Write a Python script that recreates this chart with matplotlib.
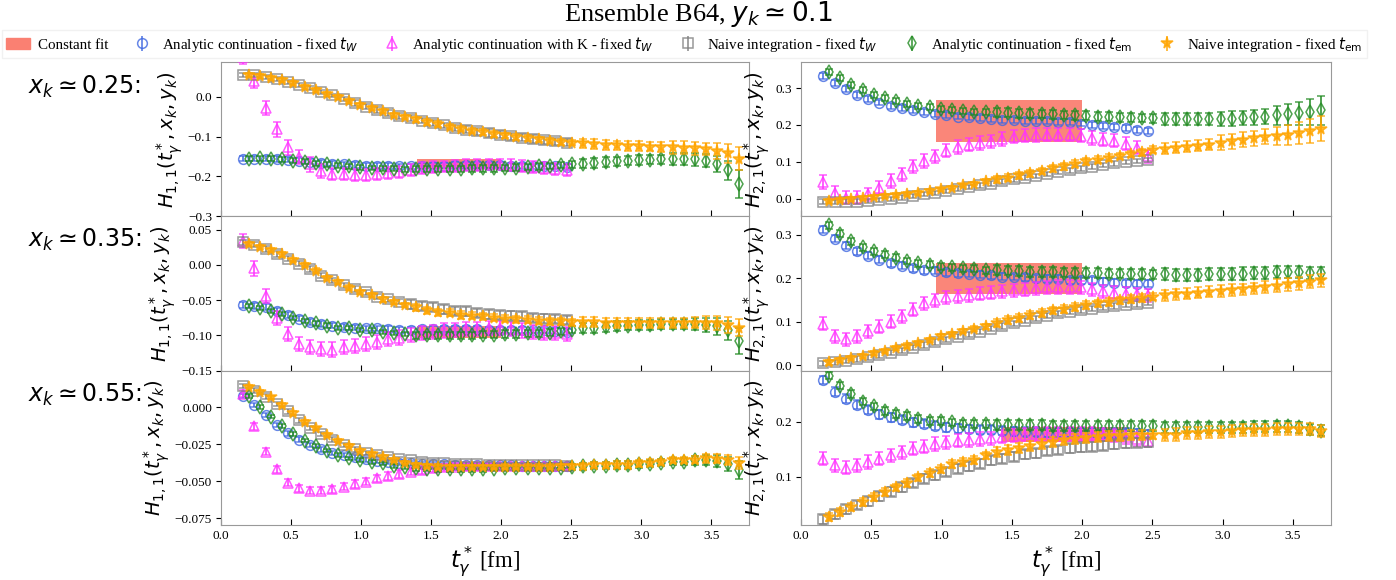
import matplotlib.pyplot as plt
from matplotlib.patches import Patch
import numpy as np

plt.rcParams['font.family'] = ['Liberation Serif', 'DejaVu Serif']
plt.rcParams['mathtext.fontset'] = 'dejavusans'

# lattice spacing of ensemble B64 (fm) and the time slices that were plotted
A_FM = 0.0796
tw_slices = np.arange(2, 32)          # fixed t_W series
tem_slices = np.arange(2, 47) + 0.5   # fixed t_em series (shifted by half a slice)

# ---------------- x_k ~ 0.25, H_{1,1} ----------------
tl_blue = [-0.155, -0.155, -0.155, -0.156, -0.158, -0.160, -0.163, -0.166, -0.168, -0.170,
           -0.172, -0.173, -0.174, -0.174, -0.175, -0.175, -0.174, -0.174, -0.173, -0.172,
           -0.172, -0.171, -0.171, -0.172, -0.173, -0.174, -0.175, -0.175, -0.175, -0.176]
tl_blue_err = [0.007] * 30
tl_pink = [0.100, 0.040, -0.029, -0.082, -0.127, -0.151, -0.170, -0.186, -0.193, -0.195,
           -0.196, -0.196, -0.194, -0.191, -0.188, -0.184, -0.180, -0.177, -0.175, -0.173,
           -0.172, -0.171, -0.170, -0.170, -0.171, -0.173, -0.176, -0.179, -0.182, -0.184]
tl_pink_err = [0.018] * 8 + [0.015] * 22
tl_gray = [0.055, 0.054, 0.050, 0.045, 0.038, 0.030, 0.021, 0.012, 0.003, -0.006,
           -0.016, -0.025, -0.033, -0.041, -0.048, -0.054, -0.060, -0.066, -0.072, -0.078,
           -0.083, -0.087, -0.091, -0.095, -0.099, -0.103, -0.106, -0.109, -0.112, -0.115]
tl_gray_err = [0.005] * 10 + [0.007] * 10 + [0.009] * 10
tl_green = [-0.155, -0.154, -0.155, -0.157, -0.160, -0.163, -0.167, -0.170, -0.173, -0.175,
            -0.177, -0.179, -0.180, -0.181, -0.182, -0.182, -0.182, -0.182, -0.181, -0.181,
            -0.180, -0.180, -0.180, -0.179, -0.178, -0.176, -0.175, -0.174, -0.172, -0.170,
            -0.168, -0.166, -0.164, -0.162, -0.160, -0.159, -0.158, -0.157, -0.156, -0.156,
            -0.157, -0.160, -0.168, -0.185, -0.218]
tl_green_err = [0.006] * 15 + [0.008] * 15 + [0.012] * 8 + [0.016] * 4 + [0.020, 0.025, 0.035]
tl_orange = [0.054, 0.052, 0.048, 0.041, 0.034, 0.025, 0.016, 0.007, -0.002, -0.011,
             -0.021, -0.029, -0.037, -0.045, -0.051, -0.057, -0.063, -0.069, -0.075, -0.080,
             -0.085, -0.089, -0.093, -0.097, -0.101, -0.104, -0.107, -0.110, -0.113, -0.115,
             -0.117, -0.119, -0.121, -0.122, -0.123, -0.124, -0.125, -0.126, -0.127, -0.128,
             -0.129, -0.131, -0.135, -0.142, -0.155]
tl_orange_err = [0.005] * 15 + [0.007] * 15 + [0.012] * 8 + [0.016] * 4 + [0.020, 0.024, 0.028]
tl_fit = (-0.182, -0.157)
tl_fit_range = (1.40, 2.00)

# ---------------- x_k ~ 0.25, H_{2,1} ----------------
tr_blue = [0.334, 0.315, 0.297, 0.282, 0.270, 0.261, 0.252, 0.245, 0.240, 0.235,
           0.231, 0.227, 0.223, 0.221, 0.218, 0.216, 0.214, 0.213, 0.212, 0.211,
           0.210, 0.209, 0.207, 0.204, 0.200, 0.197, 0.194, 0.192, 0.187, 0.183]
tr_blue_err = [0.008] * 30
tr_pink = [0.045, 0.016, 0.003, 0.003, 0.012, 0.030, 0.048, 0.066, 0.088, 0.102,
           0.115, 0.130, 0.140, 0.147, 0.151, 0.156, 0.162, 0.168, 0.171, 0.173,
           0.174, 0.174, 0.174, 0.171, 0.165, 0.160, 0.157, 0.149, 0.138, 0.115]
tr_pink_err = [0.018] * 30
tr_gray = [-0.008, -0.009, -0.008, -0.008, -0.006, -0.004, -0.001, 0.003, 0.007, 0.012,
           0.016, 0.021, 0.027, 0.032, 0.036, 0.041, 0.047, 0.052, 0.057, 0.062,
           0.067, 0.072, 0.077, 0.082, 0.087, 0.092, 0.096, 0.100, 0.103, 0.105]
tr_gray_err = [0.006] * 30
tr_green = [0.345, 0.327, 0.309, 0.294, 0.282, 0.273, 0.265, 0.258, 0.252, 0.248,
            0.244, 0.241, 0.238, 0.236, 0.235, 0.234, 0.233, 0.232, 0.231, 0.230,
            0.229, 0.227, 0.226, 0.225, 0.223, 0.222, 0.221, 0.220, 0.219, 0.218,
            0.217, 0.217, 0.216, 0.216, 0.216, 0.216, 0.217, 0.219, 0.221, 0.223,
            0.226, 0.229, 0.232, 0.235, 0.240]
tr_green_err = [0.008] * 15 + [0.012] * 15 + [0.016] * 5 + [0.020] * 5 + [0.025, 0.028, 0.031, 0.035, 0.039]
tr_orange = [-0.006, -0.003, -0.001, 0.001, 0.005, 0.007, 0.009, 0.012, 0.016, 0.021,
             0.025, 0.030, 0.036, 0.041, 0.047, 0.052, 0.057, 0.063, 0.069, 0.075,
             0.082, 0.088, 0.095, 0.101, 0.106, 0.111, 0.116, 0.121, 0.126, 0.133,
             0.135, 0.138, 0.141, 0.144, 0.147, 0.152, 0.156, 0.160, 0.164, 0.168,
             0.171, 0.174, 0.178, 0.183, 0.190]
tr_orange_err = [0.005] * 15 + [0.009] * 15 + [0.015] * 5 + [0.020] * 5 + [0.024, 0.027, 0.030, 0.032, 0.034]
tr_fit = (0.154, 0.268)
tr_fit_range = (0.96, 2.00)

# ---------------- x_k ~ 0.35, H_{1,1} ----------------
ml_blue = [-0.057, -0.058, -0.060, -0.065, -0.071, -0.076, -0.081, -0.084, -0.086, -0.088,
           -0.089, -0.090, -0.090, -0.091, -0.092, -0.092, -0.091, -0.091, -0.091, -0.091,
           -0.091, -0.091, -0.092, -0.092, -0.092, -0.092, -0.093, -0.093, -0.094, -0.095]
ml_blue_err = [0.004] * 30
ml_pink = [0.034, -0.005, -0.044, -0.075, -0.098, -0.112, -0.117, -0.119, -0.120, -0.117,
           -0.115, -0.112, -0.109, -0.105, -0.103, -0.100, -0.097, -0.095, -0.093, -0.092,
           -0.091, -0.091, -0.090, -0.090, -0.091, -0.093, -0.095, -0.096, -0.097, -0.098]
ml_pink_err = [0.010] * 30
ml_gray = [0.032, 0.029, 0.023, 0.016, 0.009, 0.002, -0.006, -0.015, -0.022, -0.029,
           -0.034, -0.039, -0.045, -0.049, -0.052, -0.056, -0.058, -0.060, -0.063, -0.065,
           -0.066, -0.068, -0.070, -0.071, -0.072, -0.073, -0.075, -0.076, -0.077, -0.078]
ml_gray_err = [0.004] * 15 + [0.006] * 15
ml_green = [-0.058, -0.061, -0.065, -0.070, -0.075, -0.079, -0.083, -0.086, -0.089, -0.090,
            -0.092, -0.093, -0.095, -0.097, -0.098, -0.100, -0.100, -0.100, -0.100, -0.100,
            -0.100, -0.099, -0.099, -0.098, -0.098, -0.097, -0.097, -0.096, -0.094, -0.092,
            -0.090, -0.089, -0.088, -0.087, -0.086, -0.085, -0.085, -0.084, -0.084, -0.084,
            -0.084, -0.085, -0.087, -0.093, -0.108]
ml_green_err = [0.003] * 15 + [0.005] * 15 + [0.007] * 10 + [0.009, 0.010, 0.012, 0.014, 0.018]
ml_orange = [0.030, 0.026, 0.021, 0.015, 0.007, 0.000, -0.008, -0.018, -0.024, -0.032,
             -0.038, -0.043, -0.049, -0.053, -0.057, -0.060, -0.064, -0.067, -0.068, -0.071,
             -0.072, -0.073, -0.075, -0.076, -0.077, -0.078, -0.079, -0.080, -0.080, -0.081,
             -0.081, -0.081, -0.082, -0.082, -0.082, -0.082, -0.082, -0.082, -0.082, -0.082,
             -0.082, -0.082, -0.083, -0.085, -0.089]
ml_orange_err = [0.003] * 15 + [0.005] * 15 + [0.007] * 10 + [0.008, 0.009, 0.010, 0.011, 0.012]
ml_fit = (-0.103, -0.086)
ml_fit_range = (1.40, 2.00)

# ---------------- x_k ~ 0.35, H_{2,1} ----------------
mr_blue = [0.312, 0.291, 0.275, 0.262, 0.252, 0.243, 0.235, 0.229, 0.223, 0.219,
           0.217, 0.214, 0.212, 0.210, 0.208, 0.207, 0.204, 0.203, 0.202, 0.200,
           0.199, 0.199, 0.196, 0.196, 0.195, 0.192, 0.190, 0.189, 0.188, 0.187]
mr_blue_err = [0.008] * 30
mr_pink = [0.095, 0.066, 0.060, 0.066, 0.078, 0.088, 0.100, 0.112, 0.128, 0.142,
           0.150, 0.156, 0.159, 0.161, 0.165, 0.167, 0.170, 0.173, 0.174, 0.177,
           0.179, 0.180, 0.180, 0.179, 0.175, 0.170, 0.167, 0.165, 0.163, 0.161]
mr_pink_err = [0.015] * 30
mr_gray = [0.004, 0.006, 0.010, 0.014, 0.018, 0.023, 0.028, 0.034, 0.040, 0.046,
           0.053, 0.059, 0.065, 0.071, 0.077, 0.084, 0.090, 0.096, 0.102, 0.108,
           0.114, 0.119, 0.123, 0.127, 0.130, 0.133, 0.136, 0.139, 0.141, 0.144]
mr_gray_err = [0.006] * 30
mr_green = [0.322, 0.303, 0.285, 0.272, 0.262, 0.254, 0.247, 0.240, 0.235, 0.231,
            0.227, 0.225, 0.223, 0.222, 0.219, 0.219, 0.218, 0.217, 0.215, 0.215,
            0.214, 0.213, 0.212, 0.212, 0.212, 0.211, 0.211, 0.210, 0.210, 0.209,
            0.209, 0.208, 0.208, 0.208, 0.209, 0.209, 0.210, 0.211, 0.212, 0.213,
            0.214, 0.214, 0.214, 0.213, 0.212]
mr_green_err = [0.008] * 15 + [0.011] * 15 + [0.014] * 15
mr_orange = [0.006, 0.011, 0.016, 0.021, 0.027, 0.033, 0.040, 0.045, 0.051, 0.058,
             0.066, 0.072, 0.078, 0.084, 0.089, 0.097, 0.103, 0.109, 0.115, 0.120,
             0.126, 0.130, 0.134, 0.138, 0.142, 0.146, 0.149, 0.152, 0.155, 0.158,
             0.161, 0.163, 0.165, 0.167, 0.169, 0.171, 0.173, 0.175, 0.177, 0.180,
             0.183, 0.186, 0.189, 0.192, 0.195]
mr_orange_err = [0.005] * 15 + [0.009] * 15 + [0.013] * 10 + [0.015] * 5
mr_fit = (0.164, 0.236)
mr_fit_range = (0.96, 2.00)

# ---------------- x_k ~ 0.55, H_{1,1} ----------------
bl_blue = [0.0074, 0.0013, -0.0054, -0.0120, -0.0177, -0.0220, -0.0256, -0.0285, -0.0310, -0.0323,
           -0.0340, -0.0353, -0.0362, -0.0370, -0.0375, -0.0380, -0.0384, -0.0386, -0.0387, -0.0388,
           -0.0389, -0.0390, -0.0390, -0.0392, -0.0394, -0.0396, -0.0398, -0.0400, -0.0400, -0.0400]
bl_blue_err = [0.0015] * 30
bl_pink = [0.0090, -0.0130, -0.0300, -0.0420, -0.0510, -0.0548, -0.0564, -0.0564, -0.0555, -0.0537,
           -0.0519, -0.0503, -0.0480, -0.0465, -0.0451, -0.0436, -0.0425, -0.0413, -0.0406, -0.0402,
           -0.0400, -0.0400, -0.0400, -0.0400, -0.0400, -0.0400, -0.0400, -0.0400, -0.0400, -0.0400]
bl_pink_err = [0.0025] * 30
bl_gray = [0.0140, 0.0110, 0.0070, 0.0020, -0.0030, -0.0090, -0.0140, -0.0180, -0.0220, -0.0255,
           -0.0285, -0.0310, -0.0323, -0.0340, -0.0350, -0.0360, -0.0368, -0.0375, -0.0380, -0.0382,
           -0.0384, -0.0386, -0.0388, -0.0390, -0.0390, -0.0390, -0.0392, -0.0393, -0.0394, -0.0395]
bl_gray_err = [0.0015] * 30
bl_green = [0.0074, 0.0002, -0.0065, -0.0128, -0.0180, -0.0227, -0.0263, -0.0294, -0.0323, -0.0346,
            -0.0357, -0.0370, -0.0380, -0.0398, -0.0406, -0.0413, -0.0415, -0.0417, -0.0420, -0.0420,
            -0.0420, -0.0420, -0.0416, -0.0414, -0.0413, -0.0413, -0.0410, -0.0410, -0.0408, -0.0405,
            -0.0400, -0.0396, -0.0396, -0.0390, -0.0390, -0.0386, -0.0382, -0.0375, -0.0368, -0.0368,
            -0.0360, -0.0355, -0.0366, -0.0384, -0.0425]
bl_green_err = [0.0012] * 15 + [0.0018] * 15 + [0.0025] * 10 + [0.0030, 0.0035, 0.0040, 0.0050, 0.0060]
bl_orange = [0.0137, 0.0100, 0.0065, 0.0013, -0.0040, -0.0100, -0.0144, -0.0190, -0.0227, -0.0260,
             -0.0294, -0.0317, -0.0335, -0.0357, -0.0375, -0.0390, -0.0398, -0.0402, -0.0405, -0.0405,
             -0.0405, -0.0405, -0.0404, -0.0403, -0.0403, -0.0403, -0.0403, -0.0402, -0.0400, -0.0400,
             -0.0398, -0.0390, -0.0390, -0.0388, -0.0388, -0.0380, -0.0375, -0.0369, -0.0357, -0.0357,
             -0.0354, -0.0346, -0.0348, -0.0357, -0.0375]
bl_orange_err = [0.0012] * 15 + [0.0016] * 15 + [0.0022] * 10 + [0.0026, 0.0030, 0.0032, 0.0035, 0.0040]
bl_fit = (-0.0415, -0.0380)
bl_fit_range = (1.43, 2.00)

# ---------------- x_k ~ 0.55, H_{2,1} ----------------
br_blue = [0.276, 0.255, 0.242, 0.231, 0.222, 0.214, 0.208, 0.204, 0.199, 0.197,
           0.193, 0.190, 0.188, 0.187, 0.186, 0.186, 0.184, 0.183, 0.182, 0.182,
           0.181, 0.181, 0.181, 0.181, 0.181, 0.180, 0.180, 0.180, 0.179, 0.178]
br_blue_err = [0.008] * 30
br_pink = [0.133, 0.121, 0.117, 0.121, 0.127, 0.133, 0.139, 0.145, 0.151, 0.155,
           0.160, 0.163, 0.166, 0.167, 0.169, 0.170, 0.173, 0.175, 0.177, 0.178,
           0.178, 0.178, 0.178, 0.178, 0.178, 0.177, 0.175, 0.172, 0.169, 0.166]
br_pink_err = [0.012] * 30
br_gray = [0.023, 0.032, 0.041, 0.049, 0.056, 0.065, 0.073, 0.081, 0.089, 0.097,
           0.103, 0.109, 0.115, 0.119, 0.124, 0.130, 0.133, 0.137, 0.141, 0.143,
           0.147, 0.149, 0.152, 0.154, 0.155, 0.157, 0.159, 0.161, 0.162, 0.163]
br_gray_err = [0.008] * 30
br_green = [0.284, 0.266, 0.251, 0.237, 0.228, 0.220, 0.214, 0.211, 0.205, 0.202,
            0.201, 0.199, 0.197, 0.196, 0.196, 0.195, 0.195, 0.194, 0.194, 0.194,
            0.193, 0.193, 0.193, 0.193, 0.193, 0.193, 0.193, 0.193, 0.193, 0.193,
            0.190, 0.190, 0.190, 0.190, 0.190, 0.190, 0.190, 0.190, 0.191, 0.191,
            0.192, 0.192, 0.190, 0.187, 0.184]
br_green_err = [0.007] * 15 + [0.009] * 15 + [0.010] * 15
br_orange = [0.0275, 0.0365, 0.0455, 0.0545, 0.0636, 0.0727, 0.081, 0.089, 0.099, 0.107,
             0.115, 0.123, 0.127, 0.131, 0.139, 0.145, 0.149, 0.153, 0.157, 0.160,
             0.163, 0.167, 0.169, 0.171, 0.173, 0.175, 0.175, 0.176, 0.176, 0.177,
             0.176, 0.177, 0.179, 0.179, 0.181, 0.181, 0.184, 0.185, 0.185, 0.186,
             0.187, 0.187, 0.187, 0.187, 0.184]
br_orange_err = [0.007] * 15 + [0.009] * 15 + [0.011] * 15
br_fit = (0.164, 0.190)
br_fit_range = (1.43, 2.32)

row_labels = [r'$x_k \simeq 0.25$:', r'$x_k \simeq 0.35$:', r'$x_k \simeq 0.55$:']
legend_labels = ['Constant fit',
                 r'Analytic continuation - fixed $t_W$',
                 r'Analytic continuation with K - fixed $t_W$',
                 r'Naive integration - fixed $t_W$',
                 r'Analytic continuation - fixed $t_{\rm em}$',
                 r'Naive integration - fixed $t_{\rm em}$']

# panel table built from the arrays above: (series..., fit, fit range, ylim, yticks, yticklabels)
panels = [
    [(tl_blue, tl_blue_err), (tl_pink, tl_pink_err), (tl_gray, tl_gray_err),
     (tl_green, tl_green_err), (tl_orange, tl_orange_err), tl_fit, tl_fit_range,
     (-0.3, 0.087), [-0.3, -0.2, -0.1, 0.0], ['−0.3', '−0.2', '−0.1', '0.0']],
    [(tr_blue, tr_blue_err), (tr_pink, tr_pink_err), (tr_gray, tr_gray_err),
     (tr_green, tr_green_err), (tr_orange, tr_orange_err), tr_fit, tr_fit_range,
     (-0.048, 0.371), [0.0, 0.1, 0.2, 0.3], ['0.0', '0.1', '0.2', '0.3']],
    [(ml_blue, ml_blue_err), (ml_pink, ml_pink_err), (ml_gray, ml_gray_err),
     (ml_green, ml_green_err), (ml_orange, ml_orange_err), ml_fit, ml_fit_range,
     (-0.15, 0.069), [-0.15, -0.10, -0.05, 0.0, 0.05], ['−0.15', '−0.10', '−0.05', '0.00', '0.05']],
    [(mr_blue, mr_blue_err), (mr_pink, mr_pink_err), (mr_gray, mr_gray_err),
     (mr_green, mr_green_err), (mr_orange, mr_orange_err), mr_fit, mr_fit_range,
     (-0.013, 0.343), [0.0, 0.1, 0.2, 0.3], ['0.0', '0.1', '0.2', '0.3']],
    [(bl_blue, bl_blue_err), (bl_pink, bl_pink_err), (bl_gray, bl_gray_err),
     (bl_green, bl_green_err), (bl_orange, bl_orange_err), bl_fit, bl_fit_range,
     (-0.0795, 0.0245), [-0.075, -0.05, -0.025, 0.0], ['−0.075', '−0.050', '−0.025', '0.000']],
    [(br_blue, br_blue_err), (br_pink, br_pink_err), (br_gray, br_gray_err),
     (br_green, br_green_err), (br_orange, br_orange_err), br_fit, br_fit_range,
     (0.0127, 0.293), [0.1, 0.2], ['0.1', '0.2']],
]

# style of each series: (color, marker, markersize, filled, uses fixed t_em slices)
styles = [('royalblue', 'o', 7.0, False, False),
          ('#ff33ff', '^', 7.5, False, False),
          ('gray', 's', 7.5, False, False),
          ('forestgreen', 'd', 7.0, False, True),
          ('orange', '*', 8.5, True, True)]

x_w = tw_slices * A_FM
x_em = tem_slices * A_FM

fig = plt.figure(figsize=(13.96, 5.8), dpi=100)
left_l, right_l = 221 / 1396, 749 / 1396
left_r, right_r = 801 / 1396, 1331 / 1396
top, bottom = 1 - 62 / 580, 1 - 525 / 580
row_h = (top - bottom) / 3

axes = []
for i, p in enumerate(panels):
    row, col = i // 2, i % 2
    x0, x1 = (left_l, right_l) if col == 0 else (left_r, right_r)
    ax = fig.add_axes([x0, top - (row + 1) * row_h, x1 - x0, row_h])
    axes.append(ax)

    fit, fit_range = p[5], p[6]
    ax.fill_between(fit_range, fit[0], fit[1], color='salmon', alpha=0.95, lw=0, zorder=1)

    for k, (vals, errs) in enumerate(p[:5]):
        color, marker, ms, filled, is_em = styles[k]
        xs = x_em if is_em else x_w
        ax.errorbar(xs, vals, yerr=errs, fmt=marker, ms=ms, color=color,
                    mfc=color if filled else 'none', mec=color, mew=1.1,
                    elinewidth=1.4, capsize=2.8, capthick=1.2, alpha=0.8, zorder=2 + k)

    ax.set_xlim(0, 3.77)
    ax.set_ylim(*p[7])
    ax.set_yticks(p[8])
    ax.set_yticklabels(p[9])
    ax.set_xticks(np.arange(0, 3.6, 0.5))
    ax.tick_params(axis='x', direction='in', length=4, labelsize=9.5)
    ax.tick_params(axis='y', direction='out', length=3.5, labelsize=9.5, pad=3)
    for s in ax.spines.values():
        s.set_color('#999999')
    if row < 2:
        ax.tick_params(axis='x', labelbottom=False)
    else:
        ax.set_xticklabels(['0.0', '0.5', '1.0', '1.5', '2.0', '2.5', '3.0', '3.5'])
        ax.set_xlabel(r'$t^*_\gamma\,$[fm]', fontsize=16.5, labelpad=2)
    if col == 0:
        ax.set_ylabel(r'$H_{1,1}(t^*_\gamma, x_k, y_k)$', fontsize=14, labelpad=2)
    else:
        ax.set_ylabel(r'$H_{2,1}(t^*_\gamma, x_k, y_k)$', fontsize=14, labelpad=2)

for r, lab in enumerate(row_labels):
    fig.text(0.02, [0.85, 0.586, 0.319][r], lab, fontsize=17, family='DejaVu Sans', va='center')

fig.suptitle(r'Ensemble B64, $y_k \simeq 0.1$', fontsize=19, y=0.976, va='center')

handles = [Patch(color='salmon')]
for color, marker, ms, filled, is_em in styles:
    h = axes[0].errorbar([], [], yerr=[], fmt=marker, ms=ms, color=color,
                         mfc=color if filled else 'none', mec=color, mew=1.1,
                         elinewidth=1.3, capsize=2.5, alpha=0.8)
    handles.append(h)
fig.legend(handles, legend_labels, loc='center', bbox_to_anchor=(0.49, 0.924), ncol=6,
           fontsize=10.8, frameon=True, edgecolor='#eeeeee', fancybox=False,
           handlelength=1.6, handletextpad=0.5, columnspacing=1.5, borderpad=0.3)

fig.savefig('out.png', dpi=100)
